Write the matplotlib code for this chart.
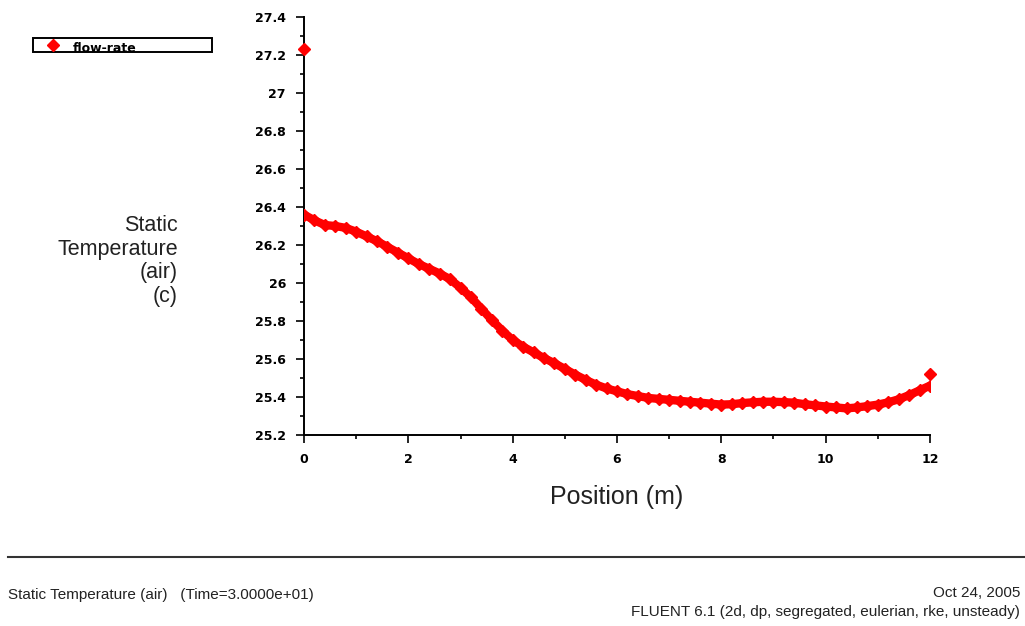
import matplotlib
matplotlib.use("Agg")
import matplotlib.pyplot as plt
from matplotlib.patches import Rectangle
from matplotlib.lines import Line2D
from matplotlib.ticker import MultipleLocator, FormatStrFormatter

# Static temperature of air along the duct (node values)
position = [0.0, 0.2, 0.4, 0.6, 0.8, 1.0, 1.2, 1.4, 1.6, 1.8,
            2.0, 2.2, 2.4, 2.6, 2.8, 3.0, 3.2, 3.4, 3.6, 3.8,
            4.0, 4.2, 4.4, 4.6, 4.8, 5.0, 5.2, 5.4, 5.6, 5.8,
            6.0, 6.2, 6.4, 6.6, 6.8, 7.0, 7.2, 7.4, 7.6, 7.8,
            8.0, 8.2, 8.4, 8.6, 8.8, 9.0, 9.2, 9.4, 9.6, 9.8,
            10.0, 10.2, 10.4, 10.6, 10.8, 11.0, 11.2, 11.4, 11.6, 11.8,
            12.0]
temperature = [26.36, 26.33, 26.305, 26.30, 26.29, 26.27, 26.245, 26.22, 26.19, 26.16,
               26.13, 26.10, 26.075, 26.05, 26.02, 25.975, 25.925, 25.865, 25.805, 25.75,
               25.70, 25.665, 25.635, 25.605, 25.578, 25.548, 25.518, 25.49, 25.465, 25.445,
               25.43, 25.415, 25.405, 25.395, 25.39, 25.385, 25.38, 25.375, 25.37, 25.365,
               25.36, 25.362, 25.368, 25.372, 25.375, 25.375, 25.373, 25.37, 25.362, 25.356,
               25.35, 25.345, 25.34, 25.345, 25.352, 25.36, 25.372, 25.388, 25.41, 25.435,
               25.46]
# inlet / outlet boundary values
boundary_position = [0.0, 12.0]
boundary_temperature = [27.23, 25.52]

x_ticks = [0, 2, 4, 6, 8, 10, 12]
y_limits = (25.2, 27.4)
series_name = "flow-rate"
y_label = "Static\nTemperature\n(air)\n(c)"
x_label = "Position (m)"
footer_left = "Static Temperature (air)   (Time=3.0000e+01)"
footer_date = "Oct 24, 2005"
footer_solver = "FLUENT 6.1 (2d, dp, segregated, eulerian, rke, unsteady)"

RED = "#ff0000"
W, H = 1025, 626
fig = plt.figure(figsize=(W / 100, H / 100), dpi=100)
fig.patch.set_facecolor("white")

ax = fig.add_axes([304 / W, 1 - 435 / H, (930 - 304) / W, (435 - 17) / H])
ax.plot(position, temperature, color=RED, lw=6.0, solid_capstyle="butt",
        marker="D", ms=6.5, mec=RED, mfc=RED, zorder=3)
ax.plot(boundary_position, boundary_temperature, ls="none", marker="D",
        ms=6.0, color=RED, zorder=3, clip_on=False)

ax.set_xlim(0, 12)
ax.set_ylim(*y_limits)
ax.set_xticks(x_ticks)
ax.xaxis.set_minor_locator(MultipleLocator(1))
ax.yaxis.set_major_locator(MultipleLocator(0.2))
ax.yaxis.set_minor_locator(MultipleLocator(0.1))
ax.yaxis.set_major_formatter(FormatStrFormatter("%g"))
for side in ("top", "right"):
    ax.spines[side].set_visible(False)
for side in ("left", "bottom"):
    ax.spines[side].set_linewidth(1.4)
    ax.spines[side].set_color("black")
ax.tick_params(which="major", direction="out", length=6, width=1.2, pad=7,
               labelsize=9, colors="black")
ax.tick_params(which="minor", direction="out", length=3, width=1.2)
for lab in ax.get_xticklabels() + ax.get_yticklabels():
    lab.set_fontweight("bold")
    lab.set_family("DejaVu Sans")

fig.text(617 / W, 1 - 497 / H, x_label, ha="center", va="center",
         fontsize=18, family="Liberation Sans", color="#222222")
fig.text(178 / W, 1 - 261 / H, y_label, ha="right", va="center",
         fontsize=15.5, family="Liberation Sans", linespacing=1.16,
         multialignment="right", color="#222222")

# legend box
rect = Rectangle((33 / W, 1 - 52 / H), (212 - 33) / W, 14 / H,
                 transform=fig.transFigure, facecolor="white",
                 edgecolor="black", lw=1.4)
fig.add_artist(rect)
fig.add_artist(Line2D([53 / W], [1 - 45 / H], transform=fig.transFigure,
                      marker="D", ms=6, color=RED, ls="none"))
t = fig.text(73 / W, 1 - 48 / H, series_name, ha="left", va="center",
             fontsize=9, fontweight="bold", family="DejaVu Sans")
t.set_clip_path(rect)

# footer
fig.add_artist(Line2D([8 / W, 1.0], [1 - 557 / H, 1 - 557 / H],
                      transform=fig.transFigure, color="#333333", lw=1.5))
fig.text(8 / W, 1 - 595 / H, footer_left, ha="left", va="center",
         fontsize=11, family="Liberation Sans", color="#222222")
fig.text(1020 / W, 1 - 593 / H, footer_date, ha="right", va="center",
         fontsize=11, family="Liberation Sans", color="#222222")
fig.text(1020 / W, 1 - 612 / H, footer_solver, ha="right", va="center",
         fontsize=11, family="Liberation Sans", color="#222222")

fig.savefig("out.png", dpi=100, facecolor="white")
